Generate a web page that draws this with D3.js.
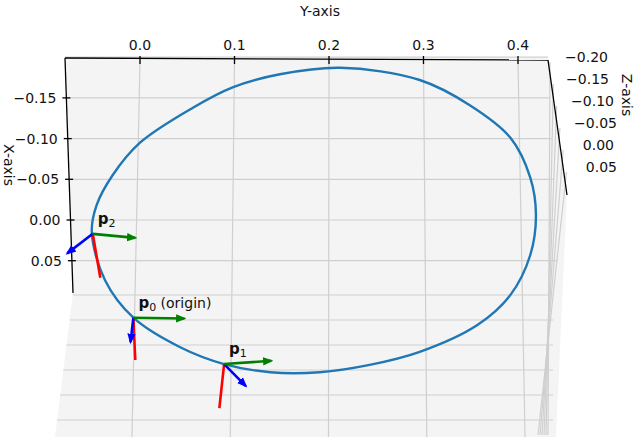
<!DOCTYPE html>
<html><head><meta charset="utf-8">
<script src="https://cdn.jsdelivr.net/npm/d3@7"></script>
<style>body{margin:0;background:#fff}text{font-family:"DejaVu Sans",sans-serif;font-size:14px;fill:#111}</style>
</head><body><svg id="c" width="640" height="439"></svg>
<script>
const yTicks=[0.0,0.1,0.2,0.3,0.4];
const xTicks=[-0.15,-0.10,-0.05,0.00,0.05];
const zTicks=[-0.20,-0.15,-0.10,-0.05,0.00,0.05];
// trajectory (Y, X)
const curveY=[0.212,0.296,0.349,0.392,0.413,0.419,0.413,0.392,0.357,0.296,0.243,0.190,0.138,0.089,0.042,-0.007,-0.037,-0.051,-0.046,-0.029,0.000,0.056,0.098,0.148];
const curveX=[-0.187,-0.172,-0.141,-0.101,-0.052,-0.006,0.043,0.092,0.129,0.162,0.178,0.187,0.187,0.177,0.156,0.120,0.074,0.015,-0.018,-0.055,-0.095,-0.138,-0.163,-0.179];
// frames: origin and arrow ends (Y,X)
const frames=[
 {name:"2",extra:"",o:[-0.050,0.017],g:[-0.005,0.022],r:[-0.042,0.071],b:[-0.077,0.041]},
 {name:"0",extra:" (origin)",o:[-0.007,0.120],g:[0.047,0.121],r:[-0.005,0.172],b:[-0.010,0.150]},
 {name:"1",extra:"",o:[0.089,0.177],g:[0.139,0.173],r:[0.084,0.231],b:[0.112,0.204]}
];
const svg=d3.select("#c");
const yTop=d3.scaleLinear().domain([0,0.4]).range([140,518]);
const yBot=d3.scaleLinear().domain([0,0.4]).range([132,525]);
const xS=d3.scaleLinear().domain([0,0.05]).range([220,260.7]);
const zS=d3.scaleLinear().domain([-0.20,0.05]).range([295,420]);
function P(Y,X,sy){const t=(sy-61)/(435-61);return [yTop(Y)+(yBot(Y)-yTop(Y))*t,sy];}
const F=(Y,X)=>[yTop(Y),xS(X)];
svg.append("polygon").attr("points","65,58 548,58 567,195 556,437 55,437 73,293").attr("fill","#f4f4f4");
const grid=svg.append("g").attr("stroke","#cfcfcf").attr("stroke-width",1.2).attr("fill","none");
zTicks.forEach((z,i)=>{const x0=550+i*3.3,y0=62+i*22;grid.append("line").attr("x1",x0).attr("y1",y0).attr("x2",548-i*2).attr("y2",435);});
xTicks.concat([-0.2]).forEach(v=>{const sy=xS(v);const xl=65+(sy-58)/(293-58)*8;grid.append("line").attr("x1",xl).attr("y1",sy).attr("x2",548+(sy-60)/135*6).attr("y2",sy);});
zTicks.forEach(z=>{const sy=zS(z);grid.append("line").attr("x1",73-(sy-293)/142*18).attr("y1",sy).attr("x2",553).attr("y2",sy);});
yTicks.forEach(v=>{const a=P(v,0,61),b=P(v,0,437);grid.append("line").attr("x1",a[0]).attr("y1",a[1]).attr("x2",b[0]).attr("y2",b[1]);});
const ax=svg.append("g").attr("stroke","#000").attr("stroke-width",1.3);
ax.append("line").attr("x1",65).attr("y1",58).attr("x2",548).attr("y2",60);
ax.append("line").attr("x1",65).attr("y1",58).attr("x2",73).attr("y2",293);
ax.append("line").attr("x1",548).attr("y1",60).attr("x2",567).attr("y2",195);
const fmt2=d=>(d<0?"\u2212":"")+Math.abs(d).toFixed(2);
yTicks.forEach(v=>{const x=yTop(v);ax.append("line").attr("x1",x).attr("y1",56).attr("x2",x).attr("y2",64);
 svg.append("text").attr("x",x).attr("y",50).attr("text-anchor","middle").text(v.toFixed(1));});
xTicks.forEach(v=>{const sy=xS(v),xl=65+(sy-58)/(293-58)*8;ax.append("line").attr("x1",xl-4).attr("y1",sy).attr("x2",xl+4).attr("y2",sy);
 svg.append("text").attr("x",xl-10).attr("y",sy+5).attr("text-anchor","end").text(fmt2(v));});
zTicks.forEach((v,i)=>{svg.append("text").attr("x",608+[0,1,6,9,6,9][i]).attr("y",62+i*22).attr("text-anchor","end").text(fmt2(v));});
svg.append("text").attr("x",320).attr("y",16).attr("text-anchor","middle").text("Y-axis");
svg.append("text").attr("transform","translate(4,165) rotate(90)").attr("text-anchor","middle").text("X-axis");
svg.append("text").attr("transform","translate(622,95) rotate(90)").attr("text-anchor","middle").text("Z-axis");
const pts=curveY.map((y,i)=>F(y,curveX[i]));
svg.append("path").attr("d",d3.line().curve(d3.curveCatmullRomClosed)(pts)).attr("fill","none").attr("stroke","#1f77b4").attr("stroke-width",2.4);
const defs=svg.append("defs");
[["g","green"],["b","blue"]].forEach(([k,c])=>defs.append("marker").attr("id","m"+k).attr("viewBox","0 0 10 10").attr("refX",8).attr("refY",5).attr("markerWidth",4).attr("markerHeight",4).attr("orient","auto").append("path").attr("d","M0,1L10,5L0,9z").attr("fill",c));
frames.forEach(f=>{const o=F(...f.o);
 [["r","red",null],["b","blue","mb"],["g","green","mg"]].forEach(([k,c,m])=>{const e=F(...f[k]);
  const l=svg.append("line").attr("x1",o[0]).attr("y1",o[1]).attr("x2",e[0]).attr("y2",e[1]).attr("stroke",c).attr("stroke-width",2.6);
  if(m)l.attr("marker-end","url(#"+m+")");});
 const t=svg.append("text").attr("x",o[0]+5).attr("y",o[1]-10);
 t.append("tspan").attr("font-weight","bold").style("font-size","15px").text("p");
 t.append("tspan").attr("dy",3).style("font-size","11px").text(f.name);
 if(f.extra)t.append("tspan").attr("dy",-3).text(f.extra);
});
</script></body></html>
